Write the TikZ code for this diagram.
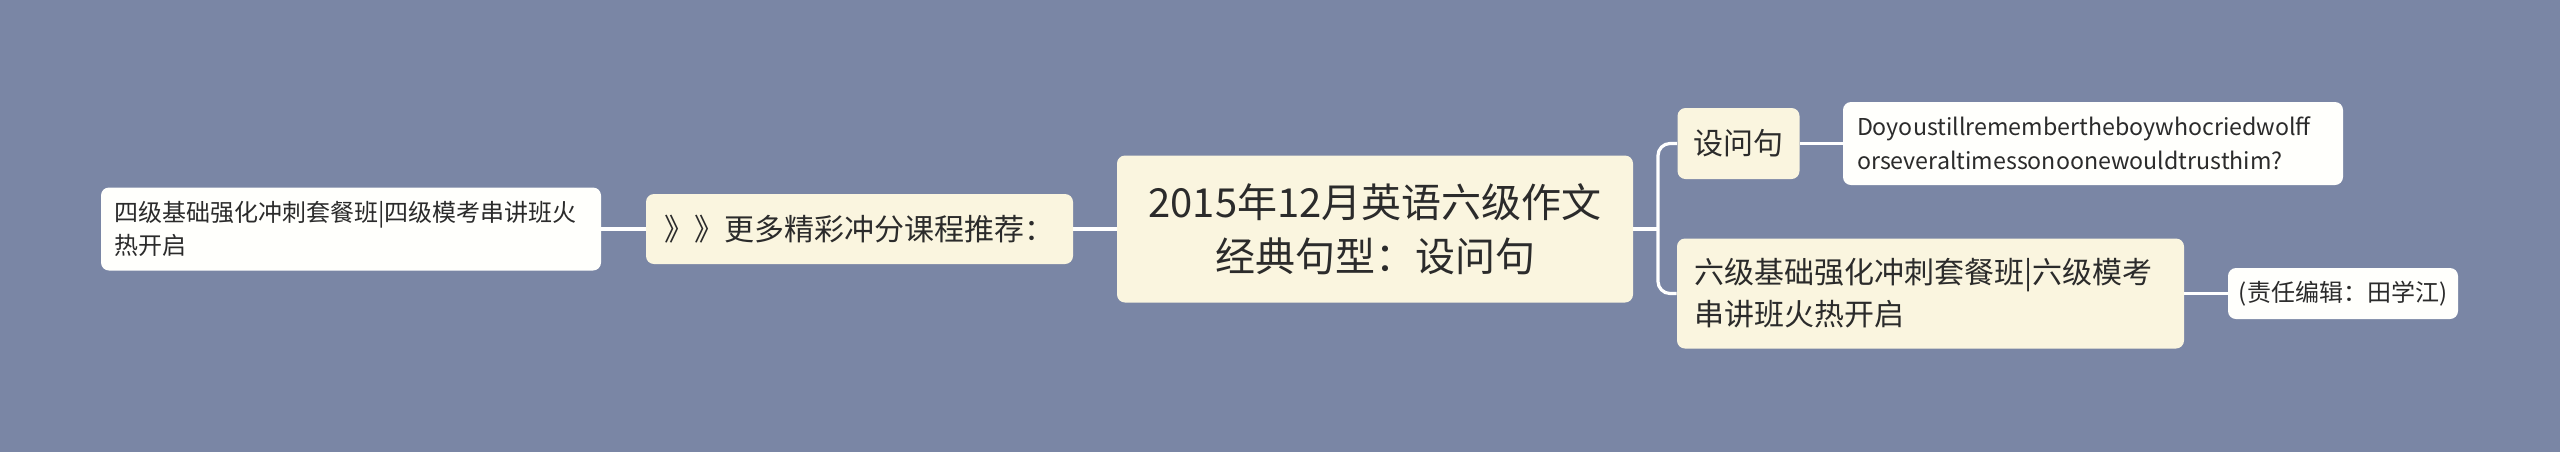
\documentclass[tikz,border=0pt]{standalone}
\usepackage{fontspec}
\setmainfont{Noto Sans CJK SC}
\definecolor{bg}{HTML}{7A86A5}
\definecolor{cream}{HTML}{FAF5DF}
\definecolor{leafc}{HTML}{FFFFFC}
\definecolor{txt}{HTML}{2B2B2B}
\begin{document}
\begin{tikzpicture}[x=0.5pt,y=-0.5pt,
  box/.style={rounded corners=4pt, inner sep=0pt, text=txt},
  rootbox/.style={box, fill=cream, font=\fontsize{20pt}{27pt}\selectfont, align=center},
  mainbox/.style={box, fill=cream, font=\fontsize{15pt}{21pt}\selectfont},
  leafbox/.style={box, fill=leafc, font=\fontsize{12pt}{16.5pt}\selectfont},
  conn/.style={draw=white, line width=1.6pt},
  branchline/.style={conn, rounded corners=6pt}]
\fill[bg] (0,0) rectangle (2560,452);
\useasboundingbox (0,0) rectangle (2560,452);

\node[rootbox, minimum width=258pt, minimum height=73.5pt] (root) at (1375,229)
  {2015年12月英语六级作文\\经典句型：设问句};

\node[mainbox, minimum width=213.5pt, minimum height=35pt] (more) at (859.5,229)
  {》》更多精彩冲分课程推荐：};
\node[leafbox, minimum width=250pt, minimum height=41.5pt, text width=237pt, align=left] (cet4) at (351,229)
  {四级基础强化冲刺套餐班|四级模考串讲班火\\热开启};

\node[mainbox, minimum width=61pt, minimum height=35.5pt] (ask) at (1738.5,143.5)
  {设问句};
\node[leafbox, minimum width=250pt, minimum height=41.5pt, text width=236pt, align=left,
  font=\fontsize{11.6pt}{17pt}\selectfont] (boy) at (2093,143.5)
  {Doyoustillremembertheboywhocriedwolff\\orseveraltimessonoonewouldtrusthim?};

\node[mainbox, minimum width=253.5pt, minimum height=55pt, text width=236.5pt, align=left] (cet6) at (1930.5,293.5)
  {六级基础强化冲刺套餐班|六级模考\\串讲班火热开启};
\node[leafbox, minimum width=115pt, minimum height=25.5pt] (editor) at (2343,293.5)
  {(责任编辑：田学江)};

\coordinate (br) at (1658,229);
\draw[conn] (root.west) -- (more.east);
\draw[conn] (more.west) -- (cet4.east);
\draw[conn] (root.east) -- (br);
\draw[branchline] (br) |- (ask.west);
\draw[branchline] (br) |- (cet6.west);
\draw[conn] (ask.east) -- (boy.west);
\draw[conn] (cet6.east) -- (editor.west);
\end{tikzpicture}
\end{document}
